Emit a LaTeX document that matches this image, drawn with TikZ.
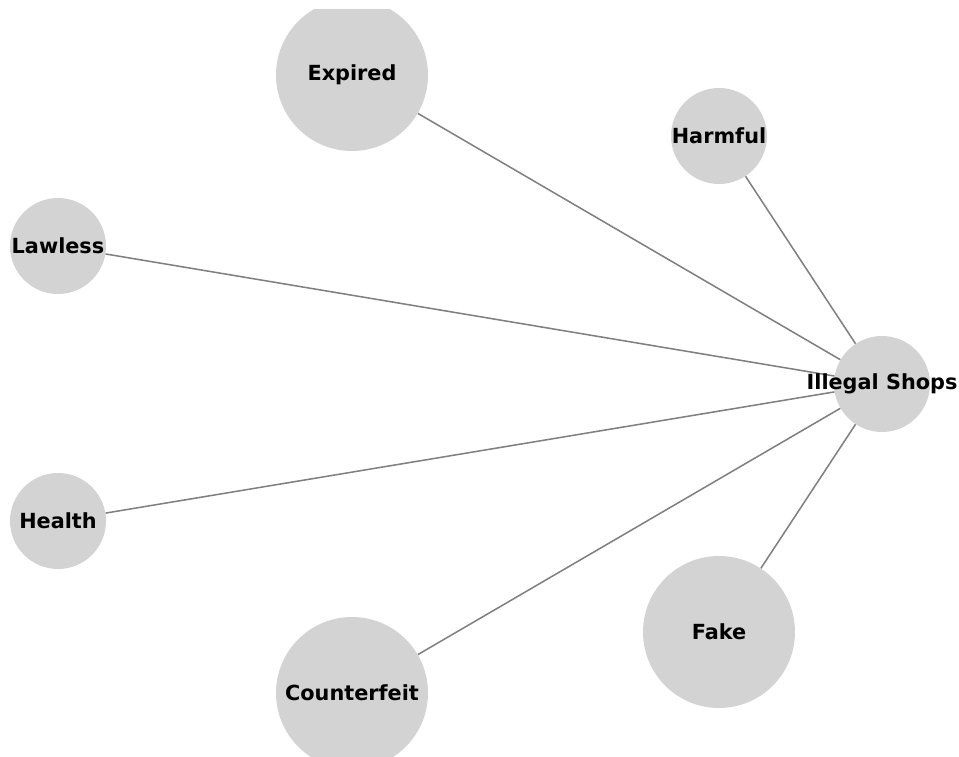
\documentclass[tikz,border=0pt]{standalone}
\usepackage{fontspec}
\setmainfont{DejaVu Sans}
\definecolor{nodegray}{HTML}{D3D3D3}
\definecolor{edgegray}{HTML}{808080}
\tikzset{
	term/.style={circle, fill=nodegray, inner sep=0pt, font=\fontsize{15.6}{18}\selectfont\bfseries},
	small/.style={term, minimum size=72pt},
	big/.style={term, minimum size=114pt},
	link/.style={draw=edgegray, line width=1.15pt}
}
\begin{document}
\begin{tikzpicture}[x=0.75pt, y=-0.75pt]
			\useasboundingbox (0,0) rectangle (959,756);
			\begin{scope}
			\clip (0,10) rectangle (959,756);
			\node[big] (expired) at (352,75) {};
			\node[small] (harmful) at (719,136) {};
			\node[small] (lawless) at (58,246) {};
			\node[small] (shops) at (882,384) {};
			\node[small] (health) at (58,521) {};
			\node[big] (counterfeit) at (352,693) {};
			\node[big] (fake) at (719,632) {};
			\end{scope}
			\draw[link] (shops) -- (expired);
			\draw[link] (shops) -- (harmful);
			\draw[link] (shops) -- (lawless);
			\draw[link] (shops) -- (health);
			\draw[link] (shops) -- (counterfeit);
			\draw[link] (shops) -- (fake);
			\node[font=\fontsize{15.6}{18}\selectfont\bfseries] at (expired) {Expired};
			\node[font=\fontsize{15.6}{18}\selectfont\bfseries] at (harmful) {Harmful};
			\node[font=\fontsize{15.6}{18}\selectfont\bfseries] at (lawless) {Lawless};
			\node[font=\fontsize{15.6}{18}\selectfont\bfseries] at (shops) {Illegal Shops};
			\node[font=\fontsize{15.6}{18}\selectfont\bfseries] at (health) {Health};
			\node[font=\fontsize{15.6}{18}\selectfont\bfseries] at (counterfeit) {Counterfeit};
			\node[font=\fontsize{15.6}{18}\selectfont\bfseries] at (fake) {Fake};
		\end{tikzpicture}
\end{document}
